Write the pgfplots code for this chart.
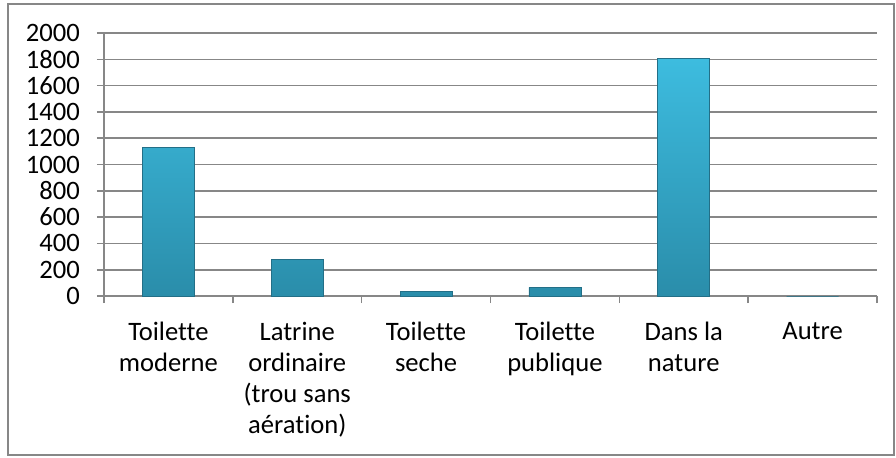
\documentclass[border=0pt]{standalone}
\usepackage{fontspec}
\setmainfont{Carlito}[Ligatures=NoCommon]
\usepackage{pgfplots}
\pgfplotsset{compat=1.18}
\definecolor{gridgray}{HTML}{878787}
\definecolor{bartop}{HTML}{3DBCDF}
\definecolor{barbot}{HTML}{2A8DAA}
\definecolor{baredge}{HTML}{236F87}
\begin{document}
\fontsize{13.3}{15.5}\selectfont
\begin{tikzpicture}[x=1pt,y=1pt]
\useasboundingbox (0,0) rectangle (448,228.5);
\draw[gridgray, line width=0.7pt] (4,1) rectangle (447,226.5);
\begin{axis}[
  at={(52pt,80.5pt)}, anchor=south west,
  scale only axis, width=386.5pt, height=131.5pt,
  xmin=-0.5, xmax=5.5, ymin=0, ymax=2000,
  axis lines=left, axis line style={-, gridgray, line width=0.8pt},
  ytick={0,200,...,2000},
  ymajorgrids, grid style={gridgray, line width=0.8pt},
  xtick={0,...,5},
  xticklabels={{Toilette\\moderne},{Latrine\\ordinaire\\(trou sans\\aération)},{Toilette\\seche},{Toilette\\publique},{Dans la\\nature},{Autre}},
  minor xtick={-0.5,0.5,...,5.5},
  major x tick style={draw=none},
  minor tick length=3.5pt, major tick length=3.5pt,
  tick align=outside,
  tick style={gridgray, line width=0.8pt},
  xticklabel style={align=center, font=\fontsize{13.3}{15.5}\selectfont, yshift=-5pt},
  yticklabel style={font=\fontsize{13.3}{15.5}\selectfont, xshift=-4pt},
  /pgf/number format/assume math mode=true,
  /pgf/number format/1000 sep={},
  ybar, bar width=26pt,
]
\addplot[draw=baredge, line width=0.4pt, top color=bartop, bottom color=barbot] coordinates {(0,1133) (1,280) (2,33) (3,66) (4,1805) (5,0)};
\end{axis}
\end{tikzpicture}
\end{document}
